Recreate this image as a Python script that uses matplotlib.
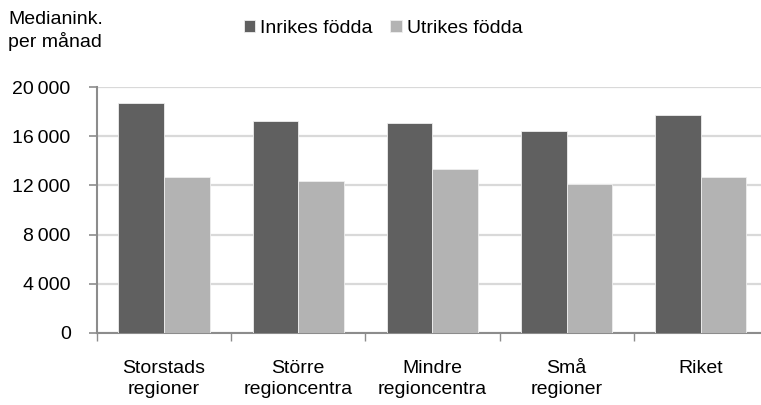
import matplotlib
matplotlib.use("Agg")
import matplotlib.pyplot as plt
import matplotlib.ticker as mticker
import numpy as np

# data
categories = ["Storstads\nregioner", "Större\nregioncentra", "Mindre\nregioncentra",
              "Små\nregioner", "Riket"]
inrikes = [18700, 17250, 17100, 16450, 17750]
utrikes = [12700, 12400, 13350, 12100, 12700]
series_names = ["Inrikes födda", "Utrikes födda"]
yticks = [0, 4000, 8000, 12000, 16000, 20000]

DARK = "#606060"
LIGHT = "#b3b3b3"
AXIS = "#8c8c8c"
GRID = "#d9d9d9"

plt.rcParams["font.family"] = ["Liberation Sans", "DejaVu Sans"]

fig = plt.figure(figsize=(7.61, 4.05), dpi=100)
ax = fig.add_axes([0.1275, 0.1785, 0.8815, 0.6059])

x = np.arange(len(categories))
w = 0.34
ax.bar(x - w / 2, inrikes, w, color=DARK, edgecolor="#eeeeee", linewidth=0.6,
       label=series_names[0], zorder=3)
ax.bar(x + w / 2, utrikes, w, color=LIGHT, edgecolor="#eeeeee", linewidth=0.6,
       label=series_names[1], zorder=3)

ax.set_xlim(-0.5, len(categories) - 0.5)
ax.set_ylim(0, 20000)
ax.set_yticks(yticks)
ax.yaxis.set_major_formatter(mticker.FuncFormatter(
    lambda v, _: f"{int(v):,}".replace(",", "\u2009")))
ax.grid(axis="y", color=GRID, linewidth=1.6, zorder=0)

# category boundaries as major ticks, labels on minor ticks at centres
ax.set_xticks(np.arange(len(categories) + 1) - 0.5)
ax.set_xticklabels([])
ax.set_xticks(x, minor=True)
ax.set_xticklabels(categories, minor=True, fontsize=14, linespacing=1.25)
ax.tick_params(axis="x", which="major", length=6, width=1, color=AXIS, direction="out")
ax.tick_params(axis="x", which="minor", length=0, pad=20)
ax.tick_params(axis="y", length=6, width=1.2, color=AXIS, pad=13, labelsize=14)

for side in ["top", "right"]:
    ax.spines[side].set_visible(False)
for side in ["left", "bottom"]:
    ax.spines[side].set_color(AXIS)
    ax.spines[side].set_linewidth(1.5)

fig.text(0.011, 0.972, "Medianink.\nper månad", fontsize=14, ha="left", va="top",
         linespacing=1.25)

fig.legend(loc="upper left", bbox_to_anchor=(0.31, 0.97), ncol=2, frameon=False,
           fontsize=14, handlelength=0.6, handleheight=0.6, handletextpad=0.25,
           columnspacing=0.9, borderaxespad=0)

fig.savefig("out.png", dpi=100)
